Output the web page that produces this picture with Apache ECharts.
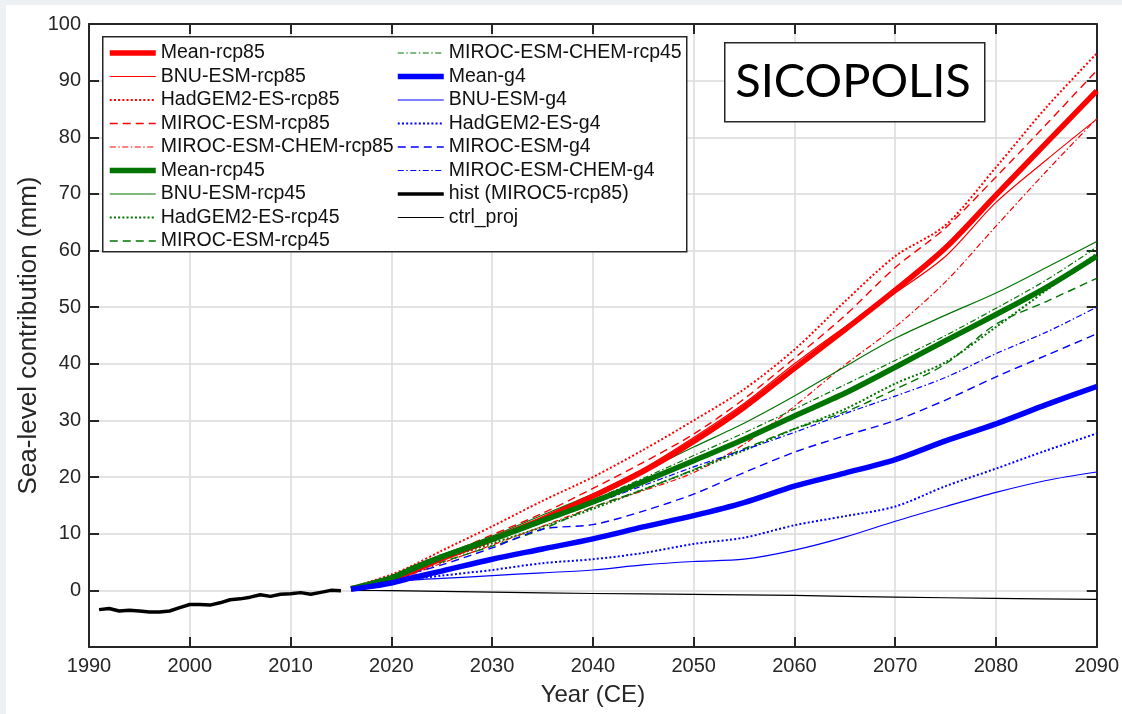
<!DOCTYPE html>
<html><head><meta charset="utf-8">
<script src="https://cdn.jsdelivr.net/npm/echarts@6/dist/echarts.min.js"></script>
<style>html,body{margin:0;padding:0;background:#fff}#c{width:1122px;height:714px}</style>
</head><body><div id="c"></div><script>
// ---- data ----
const histYears  = [1991,1992,1993,1994,1995,1996,1997,1998,1999,2000,2001,2002,2003,2004,2005,2006,2007,2008,2009,2010,2011,2012,2013,2014,2015];
const histValues = [-3.4,-3.2,-3.65,-3.5,-3.65,-3.8,-3.8,-3.65,-3.06,-2.5,-2.5,-2.6,-2.2,-1.65,-1.5,-1.2,-0.77,-1.06,-0.7,-0.6,-0.4,-0.7,-0.35,0.0,-0.05];

const ctrlYears  = [2016,2020,2030,2040,2050,2060,2070,2080,2090];
const ctrlValues = [0.0,-0.05,-0.3,-0.55,-0.7,-0.9,-1.2,-1.4,-1.6];

const projYears = [2016,2018,2020,2022,2025,2030,2035,2040,2045,2050,2055,2060,2065,2070,2075,2080,2085,2090];

const meanRcp85     = [0.3,1.0,2.0,3.3,5.6,9.0,12.6,16.6,21.0,26.3,32.3,39.2,46.0,53.0,60.5,69.8,79.0,88.2];
const bnuRcp85      = [0.3,1.0,2.0,3.4,5.6,9.0,12.8,17.0,21.5,27.0,33.0,40.0,46.5,52.5,59.0,68.5,76.0,83.2];
const hadgemRcp85   = [0.5,1.6,2.8,4.3,7.0,11.3,15.8,20.0,24.8,30.0,35.5,42.5,51.0,59.0,64.5,74.7,85.3,94.8];
const mirocRcp85    = [0.4,1.3,2.4,3.7,6.0,9.8,13.6,18.0,22.6,27.6,33.8,41.0,48.5,57.0,64.0,73.0,82.3,91.8];
const mirocChemRcp85= [0.3,0.9,1.7,2.8,4.8,8.0,11.3,14.7,17.6,20.8,25.8,32.5,39.8,46.5,54.5,64.3,74.0,83.3];

const meanRcp45     = [0.3,1.2,2.2,3.7,5.9,9.0,12.3,15.6,19.2,22.9,26.7,30.8,34.8,39.4,44.1,48.7,53.5,59.0];
const bnuRcp45      = [0.3,1.3,2.4,4.2,6.3,9.6,13.3,17.0,21.0,25.3,29.5,34.3,39.5,44.5,48.6,52.5,57.0,61.6];
const hadgemRcp45   = [0.3,1.1,2.0,3.3,5.4,8.3,11.2,14.4,17.8,21.2,24.7,28.5,32.0,36.5,40.3,46.5,53.0,59.5];
const mirocRcp45    = [0.3,1.1,2.0,3.2,5.0,7.8,10.8,14.7,17.8,21.3,25.0,28.5,31.5,35.5,40.0,47.0,51.0,55.1];
const mirocChemRcp45= [0.3,1.2,2.2,3.7,5.8,9.0,12.5,16.0,19.8,23.8,27.8,32.0,36.3,40.6,45.0,49.8,54.8,60.6];

const meanG4        = [0.2,0.7,1.3,2.2,3.4,5.5,7.3,9.1,11.2,13.2,15.5,18.4,20.7,23.1,26.4,29.4,32.8,36.0];
const bnuG4         = [0.2,0.8,1.4,1.8,2.1,2.6,3.1,3.6,4.5,5.1,5.5,7.1,9.4,12.2,14.8,17.3,19.4,20.9];
const hadgemG4      = [0.3,0.9,1.5,2.0,2.6,3.6,4.8,5.5,6.6,8.2,9.3,11.5,13.1,14.8,18.4,21.5,24.7,27.7];
const mirocG4       = [0.3,1.0,1.9,3.0,4.5,7.5,10.8,11.6,14.0,17.0,20.8,24.4,27.3,30.0,33.6,37.7,41.5,45.3];
const mirocChemG4   = [0.3,1.2,2.2,3.5,5.5,9.0,12.3,15.3,18.5,21.8,24.8,27.9,31.2,34.3,37.6,41.8,45.6,50.0];

const xMin = 1990, xMax = 2090, xStep = 10;
const yMin = -10, yMax = 100, yStep = 10;

// ---- styles ----
const RED = '#ff0000', GREEN = '#007400', BLUE = '#0000ff', BLACK = '#000000';
const DOT = [2, 2.2], DASH = [8, 5], DASHDOT = [6, 2.5, 1.5, 2.5];

function pairs(xs, ys) { return xs.map((x, i) => [x, ys[i]]); }
function mk(name, xs, ys, color, width, dash, z, smooth) {
  return {
    type: 'line', name: name, data: pairs(xs, ys),
    symbol: 'none', showSymbol: false, silent: true, z: z || 2,
    smooth: smooth === undefined ? 0.3 : smooth,
    emphasis: { disabled: true },
    lineStyle: { color: color, width: width, type: dash || 'solid', cap: 'butt', join: 'round' },
    itemStyle: { color: color }
  };
}

const series = [
  mk('Mean-rcp85', projYears, meanRcp85, RED, 5.5, null, 3),
  mk('BNU-ESM-rcp85', projYears, bnuRcp85, RED, 1.2),
  mk('HadGEM2-ES-rcp85', projYears, hadgemRcp85, RED, 2, DOT),
  mk('MIROC-ESM-rcp85', projYears, mirocRcp85, RED, 1.4, DASH),
  mk('MIROC-ESM-CHEM-rcp85', projYears, mirocChemRcp85, RED, 1.2, DASHDOT),
  mk('Mean-rcp45', projYears, meanRcp45, GREEN, 5.5, null, 3),
  mk('BNU-ESM-rcp45', projYears, bnuRcp45, GREEN, 1.2),
  mk('HadGEM2-ES-rcp45', projYears, hadgemRcp45, GREEN, 2, DOT),
  mk('MIROC-ESM-rcp45', projYears, mirocRcp45, GREEN, 1.4, DASH),
  mk('MIROC-ESM-CHEM-rcp45', projYears, mirocChemRcp45, GREEN, 1.2, DASHDOT),
  mk('Mean-g4', projYears, meanG4, BLUE, 5.5, null, 3),
  mk('BNU-ESM-g4', projYears, bnuG4, BLUE, 1.2),
  mk('HadGEM2-ES-g4', projYears, hadgemG4, BLUE, 2, DOT),
  mk('MIROC-ESM-g4', projYears, mirocG4, BLUE, 1.4, DASH),
  mk('MIROC-ESM-CHEM-g4', projYears, mirocChemG4, BLUE, 1.2, DASHDOT),
  mk('hist (MIROC5-rcp85)', histYears, histValues, BLACK, 3.5, null, 3, false),
  mk('ctrl_proj', ctrlYears, ctrlValues, BLACK, 1.2)
];

const AX = '#262626', GRIDC = '#dadada', FONT = '"Liberation Sans", Arial, Helvetica, sans-serif';
const labelFmt = v => (v === yMin ? '' : String(v));
const chart = echarts.init(document.getElementById('c'), null, { renderer: 'canvas' });
chart.setOption({
  animation: false,
  backgroundColor: '#ffffff',
  grid: { left: 89, right: 24, top: 24, bottom: 67, containLabel: false },
  xAxis: [
    { type: 'value', position: 'bottom', min: xMin, max: xMax, interval: xStep,
      name: 'Year (CE)', nameLocation: 'middle', nameGap: 36, nameMoveOverlap: false,
      nameTextStyle: { fontFamily: FONT, fontSize: 24, color: AX },
      axisLine: { show: true, onZero: false, lineStyle: { color: AX, width: 2 } },
      axisTick: { show: true, inside: true, length: 10, lineStyle: { color: AX, width: 2 } },
      axisLabel: { fontFamily: FONT, fontSize: 20, color: AX, margin: 9, formatter: v => String(v) },
      splitLine: { show: true, lineStyle: { color: GRIDC, width: 1.5 } } },
    { type: 'value', position: 'top', min: xMin, max: xMax, interval: xStep,
      axisLine: { show: true, onZero: false, lineStyle: { color: AX, width: 2 } },
      axisTick: { show: true, inside: true, length: 10, lineStyle: { color: AX, width: 2 } },
      axisLabel: { show: false }, splitLine: { show: false } }
  ],
  yAxis: [
    { type: 'value', position: 'left', min: yMin, max: yMax, interval: yStep,
      name: 'Sea-level contribution (mm)', nameLocation: 'middle', nameGap: 47, nameRotate: 90,
      nameMoveOverlap: false,
      nameTextStyle: { fontFamily: FONT, fontSize: 26, color: AX },
      axisLine: { show: true, onZero: false, lineStyle: { color: AX, width: 2 } },
      axisTick: { show: true, inside: true, length: 10, lineStyle: { color: AX, width: 2 } },
      axisLabel: { fontFamily: FONT, fontSize: 20, color: AX, margin: 8, formatter: labelFmt },
      splitLine: { show: true, lineStyle: { color: GRIDC, width: 1.5 } } },
    { type: 'value', position: 'right', min: yMin, max: yMax, interval: yStep,
      axisLine: { show: true, onZero: false, lineStyle: { color: AX, width: 2 } },
      axisTick: { show: true, inside: true, length: 10, lineStyle: { color: AX, width: 2 } },
      axisLabel: { show: false }, splitLine: { show: false } }
  ],
  legend: {
    show: true, orient: 'vertical', left: 107, top: 43, height: 208,
    padding: 0, itemWidth: 46, itemHeight: 14, itemGap: 3.5,
    selectedMode: false, z: 6,
    itemStyle: { opacity: 0 },
    textStyle: { fontFamily: FONT, fontSize: 19.5, color: '#111' },
    data: series.map(s => ({ name: s.name, lineStyle: { width: s.lineStyle.width, type: s.lineStyle.type, color: s.lineStyle.color } }))
  },
  graphic: [
    { type: 'rect', left: 0, top: 0, shape: { width: 1122, height: 5 }, style: { fill: '#eef1f4' }, z: 0, silent: true },
    { type: 'rect', left: 0, top: 0, shape: { width: 6, height: 714 }, style: { fill: '#eef1f4' }, z: 0, silent: true },
    { type: 'rect', left: 102, top: 36, shape: { width: 584, height: 215 }, style: { fill: '#fff', stroke: AX, lineWidth: 1.5 }, z: 5, silent: true },
    { type: 'rect', left: 724, top: 42, shape: { width: 260, height: 79 }, style: { fill: '#fff', stroke: AX, lineWidth: 1.5 }, z: 5, silent: true },
    { type: 'text', x: 853, y: 82, style: { text: 'SICOPOLIS', font: '47px Lato, "Open Sans", sans-serif', fill: '#000', align: 'center', verticalAlign: 'middle' }, z: 6, silent: true }
  ],
  series: series
});
</script></body></html>
